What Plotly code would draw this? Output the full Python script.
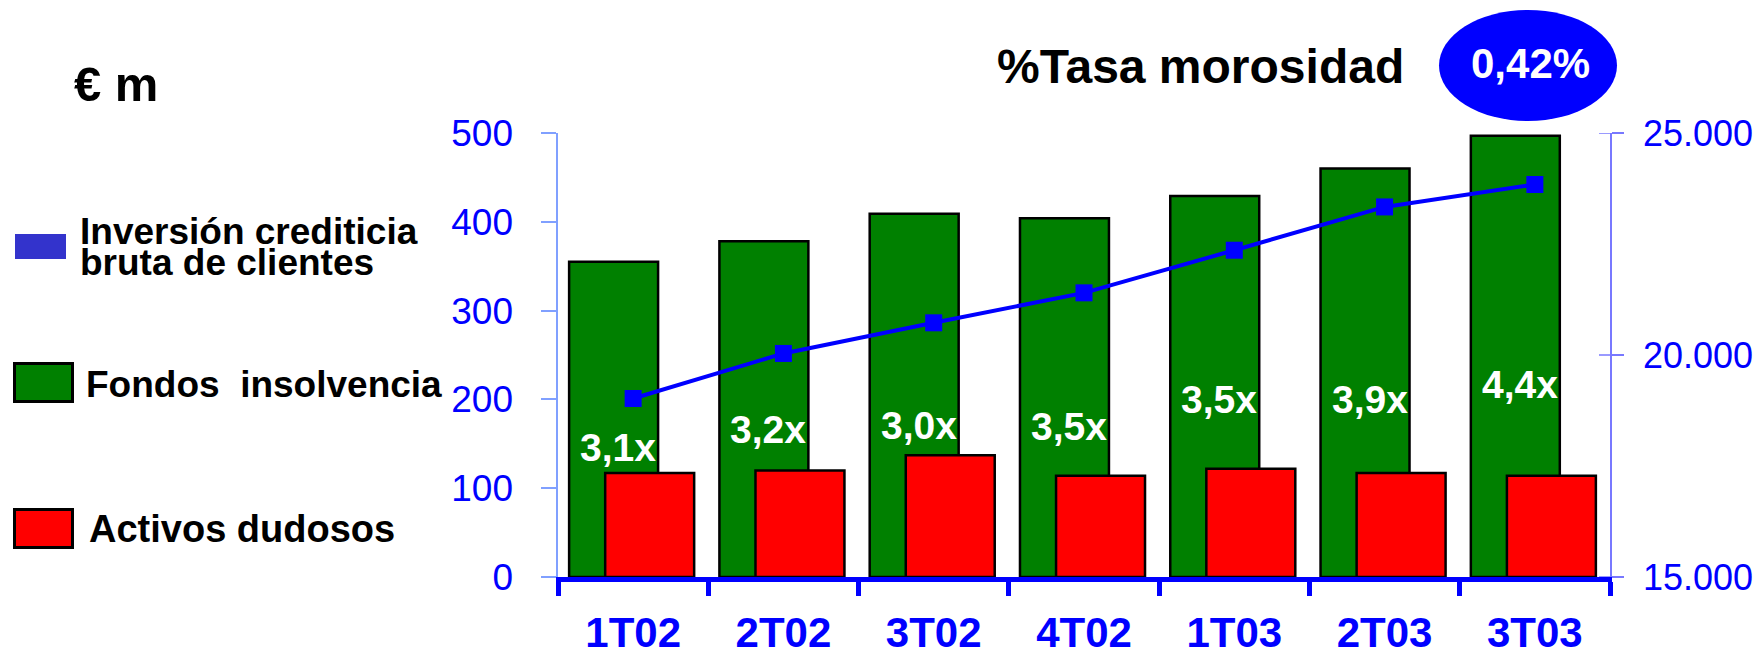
import plotly.graph_objects as go

# ---------------- data ----------------
categories = ["1T02", "2T02", "3T02", "4T02", "1T03", "2T03", "3T03"]
fondos_insolvencia = [355, 378, 409, 404, 429, 460, 497]
activos_dudosos = [117, 120, 137, 114, 122, 117, 114]
inversion_crediticia = [19020, 20035, 20725, 21400, 22360, 23335, 23840]
cobertura_labels = ["3,1x", "3,2x", "3,0x", "3,5x", "3,5x", "3,9x", "4,4x"]
cobertura_label_y = [146, 166, 171, 169, 200, 200, 217]
left_ticks = [0, 100, 200, 300, 400, 500]
left_ticktext = ["0", "100", "200", "300", "400", "500"]
right_ticks = [15000, 20000, 25000]
right_ticktext = ["15.000", "20.000", "25.000"]
tasa_morosidad = "0,42%"

# ---------------- layout geometry (pixels) ----------------
W, H = 1760, 655
L, R, T, B = 558, 150, 133, 78
PW, PH = W - L - R, H - T - B

def px(x):
    return (x - L) / PW

def py(y):
    return (H - B - y) / PH

FONT = "Liberation Sans, Arial, sans-serif"
BLUE = "#0000FF"
NB = "\u00a0"

fig = go.Figure()

fig.add_trace(go.Bar(
    x=categories, y=fondos_insolvencia, name="Fondos insolvencia",
    offset=-0.426, width=0.592,
    marker=dict(color="#008000", line=dict(color="black", width=2.5)),
    showlegend=False, hoverinfo="skip",
))
fig.add_trace(go.Bar(
    x=categories, y=activos_dudosos, name="Activos dudosos",
    offset=-0.186, width=0.592,
    marker=dict(color="#FF0000", line=dict(color="black", width=2.5)),
    showlegend=False, hoverinfo="skip",
))
fig.add_trace(go.Scatter(
    x=categories, y=inversion_crediticia, yaxis="y2",
    mode="lines+markers", name="Inversión crediticia bruta de clientes",
    line=dict(color=BLUE, width=4),
    marker=dict(symbol="square", size=17, color=BLUE),
    showlegend=False, hoverinfo="skip",
))

annotations = []
for c, t, yy in zip(categories, cobertura_labels, cobertura_label_y):
    annotations.append(dict(
        x=c, y=yy, xref="x", yref="y", text=t, showarrow=False,
        xshift=-15, xanchor="center", yanchor="middle",
        font=dict(family=FONT, size=39, color="white", weight="bold"),
    ))

def txt(text, x, y, size, color="black", xanchor="left", weight="bold"):
    annotations.append(dict(
        x=px(x), y=py(y), xref="paper", yref="paper", text=text,
        showarrow=False, xanchor=xanchor, yanchor="middle",
        font=dict(family=FONT, size=size, color=color, weight=weight),
    ))

txt("€ m", 72, 84, 49)
txt("Inversión crediticia", 78, 231, 37)
txt("bruta de clientes", 78, 262, 37)
txt("Fondos\u00a0 insolvencia", 84, 384, 37)
txt("Activos dudosos", 87, 529, 38)
txt("%Tasa morosidad", 1200, 67, 48, xanchor="center")
txt(tasa_morosidad, 1530, 64, 42, color="white", xanchor="center")

shapes = [
    dict(type="circle", xref="paper", yref="paper",
         x0=px(1439), x1=px(1617), y0=py(10), y1=py(121),
         fillcolor=BLUE, line=dict(width=0), layer="below"),
    dict(type="rect", xref="paper", yref="paper",
         x0=px(15), x1=px(66), y0=py(234), y1=py(259),
         fillcolor="#3333CC", line=dict(width=0)),
    dict(type="rect", xref="paper", yref="paper",
         x0=px(14.5), x1=px(72.5), y0=py(363.5), y1=py(401.5),
         fillcolor="#008000", line=dict(color="black", width=3)),
    dict(type="rect", xref="paper", yref="paper",
         x0=px(14.5), x1=px(72.5), y0=py(509.5), y1=py(547.5),
         fillcolor="#FF0000", line=dict(color="black", width=3)),
]
for v in right_ticks:
    shapes.append(dict(type="line", xref="paper", yref="y2",
                       x0=px(1599), x1=px(1611), y0=v, y1=v,
                       line=dict(color="#7878FF", width=1.5)))

fig.update_layout(
    width=W, height=H,
    margin=dict(l=L, r=R, t=T, b=B, pad=0, autoexpand=False),
    paper_bgcolor="white", plot_bgcolor="white",
    barmode="overlay",
    showlegend=False,
    annotations=annotations,
    shapes=shapes,
    xaxis=dict(
        type="category", range=[-0.5, 6.5], automargin=False,
        showline=True, linecolor=BLUE, linewidth=5,
        ticks="outside", tickson="boundaries", ticklen=14, tickwidth=5,
        tickcolor=BLUE, showgrid=False, zeroline=False,
        tickfont=dict(family=FONT, size=42, color=BLUE, weight="bold"),
        ticklabelstandoff=15,
    ),
    yaxis=dict(
        range=[0, 500], tickvals=left_ticks,
        ticktext=[t + NB + NB for t in left_ticktext], automargin=False,
        showline=True, linecolor="#80A0FF", linewidth=2,
        ticks="outside", ticklen=15, tickwidth=1.5, tickcolor="#80A0FF",
        showgrid=False, zeroline=False,
        tickfont=dict(family=FONT, size=37, color=BLUE),
    ),
    yaxis2=dict(
        overlaying="y", side="right", range=[15000, 25000], automargin=False,
        tickvals=right_ticks, ticktext=right_ticktext,
        showline=True, linecolor="#7878FF", linewidth=1.5,
        ticks="outside", ticklen=12, tickwidth=1.5, tickcolor="#7878FF",
        showgrid=False, zeroline=False,
        tickfont=dict(family=FONT, size=36, color=BLUE),
        ticklabelstandoff=12,
    ),
)

fig.write_html(
    "out.html",
    config={"displayModeBar": False},
    post_script="document.body.style.margin='0';document.body.style.overflow='hidden';",
)
